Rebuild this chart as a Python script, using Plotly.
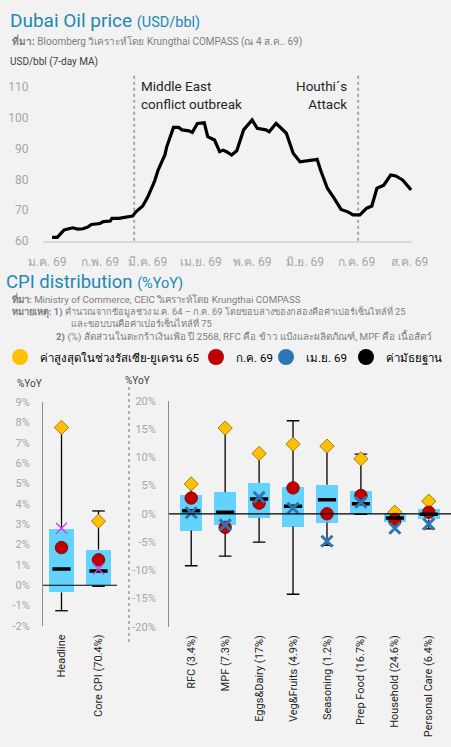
import plotly.graph_objects as go

W, H = 451, 747
BG = "#f2f2f2"
TITLE_BLUE = "#2388b4"
BOX_BLUE = "#63d3fb"
GOLD = "#ffc000"
RED = "#c00000"
BLUE = "#2e75b6"
MAGENTA = "#cc44ee"
FONT = "Roboto, Noto Sans, sans-serif"

# ---------------- Dubai oil price (7-day MA) ----------------
oil_dates = [
    "2026-01-04", "2026-01-07", "2026-01-11", "2026-01-16", "2026-01-19", "2026-01-22",
    "2026-01-25", "2026-01-27", "2026-02-01", "2026-02-03", "2026-02-07", "2026-02-08",
    "2026-02-12", "2026-02-15", "2026-02-20", "2026-02-22", "2026-02-26", "2026-03-01",
    "2026-03-05", "2026-03-07", "2026-03-09", "2026-03-11", "2026-03-12", "2026-03-14",
    "2026-03-16", "2026-03-19", "2026-03-21", "2026-03-25", "2026-03-27", "2026-03-30",
    "2026-04-03", "2026-04-05", "2026-04-09", "2026-04-12", "2026-04-14", "2026-04-16",
    "2026-04-19", "2026-04-22", "2026-04-24", "2026-04-26", "2026-05-01", "2026-05-04",
    "2026-05-09", "2026-05-11", "2026-05-15", "2026-05-18", "2026-05-21", "2026-05-25",
    "2026-05-29", "2026-06-06", "2026-06-08", "2026-06-10", "2026-06-14", "2026-06-18",
    "2026-06-22", "2026-06-26", "2026-06-29", "2026-07-03", "2026-07-07", "2026-07-10",
    "2026-07-13", "2026-07-17", "2026-07-21", "2026-07-24", "2026-07-28", "2026-08-02",
]
oil_values = [
    61.1, 61.1, 63.5, 64.2, 63.8, 63.9,
    64.5, 65.3, 65.6, 66.2, 66.4, 67.3,
    67.3, 67.6, 68.0, 69.4, 71.3, 74.3,
    79.5, 83.0, 85.7, 88.0, 90.5, 93.5,
    96.9, 96.9, 96.1, 95.8, 95.3, 98.2,
    98.4, 93.9, 92.8, 89.0, 89.5, 89.0,
    87.9, 89.3, 92.5, 96.1, 99.3, 96.6,
    96.1, 95.5, 98.2, 96.6, 95.0, 88.5,
    85.7, 86.3, 86.5, 83.0, 77.1, 73.8,
    70.2, 69.4, 68.4, 68.4, 70.6, 71.3,
    77.1, 78.1, 81.4, 81.1, 79.8, 76.5,
]
event_dates = ["2026-02-21", "2026-07-02"]
event_labels = ["Middle East<br>conflict outbreak", "Houthi´s<br>Attack"]
month_ticks = ["2026-01-01", "2026-02-01", "2026-03-01", "2026-04-01",
               "2026-05-01", "2026-06-01", "2026-07-01", "2026-08-01"]
month_labels = ["ม.ค. 69", "ก.พ. 69", "มี.ค. 69", "เม.ย. 69",
                "พ.ค. 69", "มิ.ย. 69", "ก.ค. 69", "ส.ค. 69"]
oil_yticks = [60, 70, 80, 90, 100, 110]

# ---------------- CPI distribution ----------------
left_categories = ["Headline", "Core CPI (70.4%)"]
left_q1 = [-0.35, 0.0]
left_q3 = [2.75, 1.75]
left_median = [0.8, 0.7]
left_min = [-1.25, -0.05]
left_max = [7.75, 3.65]
left_peak65 = [7.75, 3.15]
left_jul69 = [1.85, 1.25]
left_apr69 = [2.8, 0.8]
left_yticks = [-2, -1, 0, 1, 2, 3, 4, 5, 6, 7, 8, 9]

right_categories = ["RFC (3.4%)", "MPF (7.3%)", "Eggs&Dairy (17%)", "Veg&Fruits (4.9%)",
                    "Seasoning (1.2%)", "Prep Food (16.7%)", "Household (24.6%)",
                    "Personal Care (6.4%)"]
right_q1 = [-2.95, -2.05, -0.7, -2.25, -1.55, 0.0, -1.5, -1.0]
right_q3 = [3.4, 3.85, 5.5, 4.7, 5.15, 4.1, 0.2, 0.9]
right_median = [0.55, 0.3, 2.65, 1.35, 2.5, 1.8, -0.75, -0.05]
right_min = [-9.2, -7.5, -5.0, -14.25, -5.6, -0.1, -1.5, -2.65]
right_max = [5.3, 15.2, 10.7, 16.5, 12.0, 10.6, 0.3, 2.25]
right_peak65 = [5.3, 15.2, 10.7, 12.35, 12.0, 9.75, 0.3, 2.25]
right_jul69 = [2.8, -2.4, 1.9, 4.6, 0.0, 3.25, -1.0, 0.3]
right_apr69 = [0.2, -1.95, 2.95, 1.0, -4.85, 2.05, -2.55, -1.8]
right_yticks = [-20, -15, -10, -5, 0, 5, 10, 15, 20]

legend_names = ["ค่าสูงสุดในช่วงรัสเซีย-ยูเครน 65", "ก.ค. 69", "เม.ย. 69", "ค่ามัธยฐาน"]
legend_colors = [GOLD, RED, BLUE, "#000000"]


def px(x):
    return x / W


def py(y):
    return 1 - y / H


fig = go.Figure()

# oil line
fig.add_trace(go.Scatter(
    x=oil_dates, y=oil_values, mode="lines",
    line=dict(color="black", width=3.2),
    xaxis="x", yaxis="y", showlegend=False, hoverinfo="skip",
))


def add_panel(cats, q1, q3, med, wmin, wmax, peak, jul, apr, xa, ya, apr_color, apr_width):
    fig.add_trace(go.Bar(
        x=cats, y=[b - a for a, b in zip(q1, q3)], base=q1, width=0.66,
        marker=dict(color=BOX_BLUE, line=dict(width=0)),
        xaxis=xa, yaxis=ya, showlegend=False, hoverinfo="skip",
    ))
    wx, wy = [], []
    for c, lo, a, b, hi in zip(cats, wmin, q1, q3, wmax):
        wx += [c, c, None, c, c, None]
        wy += [lo, a, None, b, hi, None]
    fig.add_trace(go.Scatter(
        x=wx, y=wy, mode="lines", line=dict(color="black", width=1.3),
        xaxis=xa, yaxis=ya, showlegend=False, hoverinfo="skip",
    ))
    fig.add_trace(go.Scatter(
        x=cats + cats, y=wmin + wmax, mode="markers",
        marker=dict(symbol="line-ew", size=9, line=dict(color="black", width=1.3)),
        xaxis=xa, yaxis=ya, showlegend=False, hoverinfo="skip",
    ))
    fig.add_trace(go.Scatter(
        x=cats, y=peak, mode="markers",
        marker=dict(symbol="diamond", size=11, color=GOLD, line=dict(color="#8a6a00", width=0.8)),
        xaxis=xa, yaxis=ya, showlegend=False, hoverinfo="skip",
    ))
    fig.add_trace(go.Scatter(
        x=cats, y=jul, mode="markers",
        marker=dict(symbol="circle", size=12.5, color=RED, line=dict(color="#700000", width=0.8)),
        xaxis=xa, yaxis=ya, showlegend=False, hoverinfo="skip",
    ))
    fig.add_trace(go.Scatter(
        x=cats, y=med, mode="markers",
        marker=dict(symbol="line-ew", size=13, line=dict(color="black", width=3.5)),
        xaxis=xa, yaxis=ya, showlegend=False, hoverinfo="skip",
    ))
    fig.add_trace(go.Scatter(
        x=cats, y=apr, mode="markers",
        marker=dict(symbol="x-thin", size=11, line=dict(color=apr_color, width=apr_width)),
        xaxis=xa, yaxis=ya, showlegend=False, hoverinfo="skip",
    ))


add_panel(left_categories, left_q1, left_q3, left_median, left_min, left_max,
          left_peak65, left_jul69, left_apr69, "x2", "y2", MAGENTA, 1.5)
add_panel(right_categories, right_q1, right_q3, right_median, right_min, right_max,
          right_peak65, right_jul69, right_apr69, "x3", "y3", BLUE, 3)

# legend entries, each in its own legend box so they can sit like the reference
legend_ids = ["legend", "legend2", "legend3", "legend4"]
legend_left = [0, 196, 266, 346]
for name, col, lid in zip(legend_names, legend_colors, legend_ids):
    fig.add_trace(go.Scatter(
        x=[None], y=[None], mode="markers", name=name,
        marker=dict(symbol="circle", size=19, color=col),
        xaxis="x3", yaxis="y3", showlegend=True, legend=lid,
    ))

tick_gray = "#a6a6a6"
dark = "#262626"

shapes = []
for d in event_dates:
    shapes.append(dict(type="line", xref="x", yref="y domain", x0=d, x1=d, y0=0, y1=1.03,
                       line=dict(color="#a6a6a6", width=2, dash="dot"), layer="below"))
# zero lines
shapes.append(dict(type="line", xref="x2 domain", yref="y2", x0=0, x1=1, y0=0, y1=0,
                   line=dict(color="black", width=1.2), layer="above"))
shapes.append(dict(type="line", xref="x3 domain", yref="y3", x0=0, x1=1, y0=0, y1=0,
                   line=dict(color="black", width=1.2), layer="above"))
# separator between the two panels
shapes.append(dict(type="line", xref="paper", yref="paper", x0=px(129), x1=px(129),
                   y0=py(642), y1=py(384), line=dict(color="#b0b0b0", width=2, dash="dot")))

annotations = []


def txt(x, y, text, size, color=dark, xanchor="left", yanchor="middle", align="left"):
    annotations.append(dict(x=px(x), y=py(y), xref="paper", yref="paper", text=text,
                            showarrow=False, xanchor=xanchor, yanchor=yanchor, align=align,
                            font=dict(size=size, color=color, family=FONT)))


txt(8, 20, "Dubai Oil price <span style='font-size:14.5px'>(USD/bbl)</span>", 19, TITLE_BLUE)
txt(10, 41, "<b>ที่มา:</b> Bloomberg วิเคราะห์โดย Krungthai COMPASS (ณ 4 ส.ค.. 69)", 10, "#7f7f7f")
txt(8, 62, "USD/bbl (7-day MA)", 10, "#404040")

annotations.append(dict(x=event_dates[0], y=py(76), xref="x", yref="paper", xshift=5,
                        text=event_labels[0], showarrow=False, xanchor="left", yanchor="top",
                        align="left", font=dict(size=13.5, color=dark, family=FONT)))
annotations.append(dict(x=event_dates[1], y=py(76), xref="x", yref="paper", xshift=-9,
                        text=event_labels[1], showarrow=False, xanchor="right", yanchor="top",
                        align="right", font=dict(size=13.5, color=dark, family=FONT)))

txt(4, 282, "CPI distribution <span style='font-size:14.5px'>(%YoY)</span>", 18.5, TITLE_BLUE)
txt(10, 298, "<b>ที่มา:</b> Ministry of Commerce, CEIC วิเคราะห์โดย Krungthai COMPASS", 9.7, "#7f7f7f")
txt(10, 311, "<b>หมายเหตุ: 1)</b> คำนวณจากข้อมูลช่วง ม.ค. 64 – ก.ค. 69 โดยขอบล่างของกล่องคือค่าเปอร์เซ็นไทล์ที่ 25",
    9.2, "#7f7f7f")
txt(69, 323, "และขอบบนคือค่าเปอร์เซ็นไทล์ที่ 75", 9.4, "#7f7f7f")
txt(54, 336, "<b>2)</b> (%) สัดส่วนในตะกร้าเงินเฟ้อ ปี 2568, RFC คือ ข้าว แป้งและผลิตภัณฑ์, MPF คือ เนื้อสัตว์",
    9.8, "#7f7f7f")
txt(15, 384, "%YoY", 10, "#404040")
txt(123, 380, "%YoY", 10, "#404040")

legend_style = dict(orientation="h", xanchor="left", y=py(357), yanchor="middle",
                    font=dict(size=11.5, color="#000000", family=FONT),
                    bgcolor="rgba(0,0,0,0)", itemsizing="trace", itemclick=False,
                    itemdoubleclick=False)

fig.update_layout(
    width=W, height=H, autosize=False,
    margin=dict(l=0, r=0, t=0, b=0, pad=0, autoexpand=False),
    paper_bgcolor=BG, plot_bgcolor=BG,
    font=dict(family=FONT, color=dark),
    hovermode=False,
    bargap=0,
    showlegend=True,
    legend=dict(x=px(legend_left[0]), **legend_style),
    legend2=dict(x=px(legend_left[1]), **legend_style),
    legend3=dict(x=px(legend_left[2]), **legend_style),
    legend4=dict(x=px(legend_left[3]), **legend_style),
    shapes=shapes,
    annotations=annotations,
    xaxis=dict(
        type="date", domain=[px(43), px(412)], anchor="y",
        range=["2025-12-29 16:00", "2026-08-02 12:00"],
        tickvals=month_ticks, ticktext=month_labels,
        showgrid=False, zeroline=False, showline=True, linecolor="#d9d9d9", linewidth=1.5,
        ticks="outside", ticklen=9, tickcolor="rgba(0,0,0,0)",
        tickfont=dict(size=12, color=tick_gray),
    ),
    yaxis=dict(
        domain=[py(240.7), py(78)], anchor="x", range=[60, 113],
        tickvals=oil_yticks, ticktext=[str(v) for v in oil_yticks],
        showgrid=False, zeroline=False, showline=False,
        ticks="outside", ticklen=11, tickcolor="rgba(0,0,0,0)",
        tickfont=dict(size=12, color=tick_gray),
    ),
    xaxis2=dict(
        domain=[px(43), px(117)], anchor="y2", type="category",
        showgrid=False, zeroline=False, showline=False,
        tickangle=-90, ticks="outside", ticklen=3, tickcolor="rgba(0,0,0,0)",
        tickfont=dict(size=11, color=dark),
    ),
    yaxis2=dict(
        domain=[py(626), py(402)], anchor="x2", range=[-2, 9],
        tickvals=left_yticks, ticktext=[f"{v}%" for v in left_yticks],
        showgrid=False, zeroline=False, showline=True, linecolor="#8c8c8c", linewidth=1,
        ticks="outside", ticklen=10, tickcolor="rgba(0,0,0,0)",
        tickfont=dict(size=11, color=tick_gray),
    ),
    xaxis3=dict(
        domain=[px(169), 1.0], anchor="y3", type="category",
        showgrid=False, zeroline=False, showline=False,
        tickangle=-90, ticks="outside", ticklen=3, tickcolor="rgba(0,0,0,0)",
        tickfont=dict(size=11, color=dark),
    ),
    yaxis3=dict(
        domain=[py(626.7), py(401)], anchor="x3", range=[-20, 20],
        tickvals=right_yticks, ticktext=[f"{v}%" for v in right_yticks],
        showgrid=False, zeroline=False, showline=True, linecolor="#8c8c8c", linewidth=1,
        ticks="outside", ticklen=10, tickcolor="rgba(0,0,0,0)",
        tickfont=dict(size=11, color=tick_gray),
    ),
)

# the page's default 8px body margin would push the 451x747 figure off the window
fig.write_html("out.html", config={"displayModeBar": False},
               post_script="document.body.style.margin='0';")
